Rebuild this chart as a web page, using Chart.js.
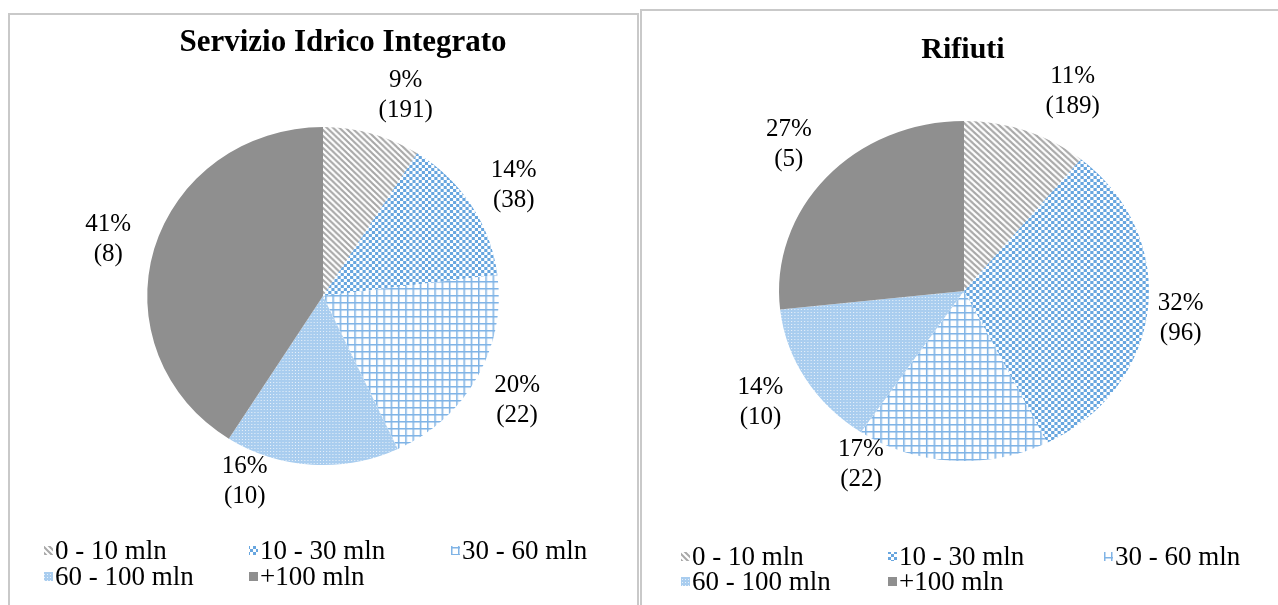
<!DOCTYPE html>
<html>
<head>
<meta charset="utf-8">
<script src="https://cdn.jsdelivr.net/npm/chart.js@4.4.1/dist/chart.umd.min.js"></script>
<style>
  html, body { margin: 0; padding: 0; background: #fff; width: 1278px; height: 605px; overflow: hidden; }
  .pannello { position: absolute; border: 2px solid #c9c9c9; box-sizing: border-box; background: #fff; }
  #p1 { left: 8px; top: 13px; width: 631px; height: 640px; }
  #p2 { left: 640px; top: 9px; width: 700px; height: 640px; }
  canvas { position: absolute; left: 0; top: 0; }
</style>
</head>
<body>
<div class="pannello" id="p1"><canvas id="torta1" width="625" height="590"></canvas></div>
<div class="pannello" id="p2"><canvas id="torta2" width="636" height="594"></canvas></div>
<script>
// fasce di fatturato
const fasce = ['0 - 10 mln', '10 - 30 mln', '30 - 60 mln', '60 - 100 mln', '+100 mln'];

// Servizio Idrico Integrato: quota % e numero di aziende
const idricoPerc = [9, 14, 20, 16, 41];
const idricoNum = [191, 38, 22, 10, 8];

// Rifiuti
const rifiutiPerc = [11, 32, 17, 14, 27];
const rifiutiNum = [189, 96, 22, 10, 5];

// --- retini stile Excel ---
function retino(size, disegna) {
  const c = document.createElement('canvas');
  c.width = size; c.height = size;
  const g = c.getContext('2d');
  disegna(g, size);
  return g.createPattern(c, 'repeat');
}

const pTratteggio = retino(6, (g, s) => {
  g.fillStyle = '#fff'; g.fillRect(0, 0, s, s);
  g.strokeStyle = '#a8a8a8'; g.lineWidth = 2;
  g.beginPath();
  g.moveTo(-1, -1); g.lineTo(s + 1, s + 1);
  g.moveTo(-1, s - 1); g.lineTo(1, s + 1);
  g.moveTo(s - 1, -1); g.lineTo(s + 1, 1);
  g.stroke();
});
const pScacchi = retino(6, (g, s) => {
  g.fillStyle = '#fff'; g.fillRect(0, 0, s, s);
  g.fillStyle = '#68a6df';
  g.fillRect(0, 0, 3, 3); g.fillRect(3, 3, 3, 3);
});
const pGriglia = retino(7, (g, s) => {
  g.fillStyle = '#fff'; g.fillRect(0, 0, s, s);
  g.fillStyle = '#80b4e6';
  g.fillRect(0, 0, s, 1.5); g.fillRect(0, 0, 1.5, s);
});
const pPuntini = retino(3, (g, s) => {
  g.fillStyle = '#a9cdef'; g.fillRect(0, 0, s, s);
  g.fillStyle = '#e8f1fa'; g.fillRect(1, 1, 1, 1);
});
const colori = [pTratteggio, pScacchi, pGriglia, pPuntini, '#8f8f8f'];

// torta leggermente allargata in orizzontale
const allargaTorta = {
  id: 'allargaTorta',
  beforeDatasetsDraw(chart, args, opts) {
    const arc = chart.getDatasetMeta(0).data[0];
    const ctx = chart.ctx;
    ctx.save();
    ctx.translate(arc.x, arc.y);
    ctx.scale(opts.sx, 1);
    ctx.translate(-arc.x, -arc.y);
  },
  afterDatasetsDraw(chart) {
    chart.ctx.restore();
  }
};

// titolo, etichette esterne "xx% (n)" e legenda a colonne
const decorazioni = {
  id: 'decorazioni',
  afterDraw(chart, args, opts) {
    const ctx = chart.ctx;
    const ds = chart.data.datasets[0];
    ctx.save();
    ctx.fillStyle = '#000';
    ctx.textAlign = 'center';
    ctx.textBaseline = 'middle';

    ctx.font = 'bold ' + opts.titoloSize + 'px "Liberation Serif"';
    ctx.fillText(opts.titolo, opts.titoloX, opts.titoloY);

    ctx.font = '25px "Liberation Serif"';
    chart.getDatasetMeta(0).data.forEach((arc, i) => {
      const p = arc.getProps(['x', 'y', 'startAngle', 'endAngle', 'outerRadius']);
      const a = (p.startAngle + p.endAngle) / 2 + opts.sposta[i] * Math.PI / 180;
      const d = p.outerRadius + opts.distanza[i];
      const lx = p.x + Math.cos(a) * d * opts.sx;
      const ly = p.y + Math.sin(a) * d;
      ctx.fillText(ds.data[i] + '%', lx, ly - 15);
      ctx.fillText('(' + ds.aziende[i] + ')', lx, ly + 15);
    });

    ctx.font = '27px "Liberation Serif"';
    ctx.textAlign = 'left';
    chart.data.labels.forEach((lab, i) => {
      const x = opts.colonne[i % 3];
      const y = opts.righe[Math.floor(i / 3)];
      ctx.fillStyle = ds.backgroundColor[i];
      ctx.fillRect(x, y - 5, 9, 9);
      ctx.fillStyle = '#000';
      ctx.fillText(lab, x + 11, y + 1);
    });
    ctx.restore();
  }
};

function torta(id, perc, num, padding, deco) {
  return new Chart(document.getElementById(id), {
    type: 'pie',
    data: {
      labels: fasce,
      datasets: [{
        data: perc,
        aziende: num,
        backgroundColor: colori,
        borderWidth: 0
      }]
    },
    options: {
      responsive: false,
      animation: false,
      layout: { padding },
      plugins: {
        legend: { display: false },
        title: { display: false },
        tooltip: { enabled: false },
        allargaTorta: { sx: deco.sx },
        decorazioni: deco
      }
    },
    plugins: [allargaTorta, decorazioni]
  });
}

torta('torta1', idricoPerc, idricoNum,
  { top: 112, bottom: 140, left: 100, right: 99 },
  {
    titolo: 'Servizio Idrico Integrato', titoloX: 333, titoloY: 28, titoloSize: 31,
    sx: 1.04,
    sposta: [5.4, 1.4, 0.5, 18.5, -1],
    distanza: [47, 45, 45, 31, 45],
    colonne: [34, 239, 441], righe: [536, 562]
  });

torta('torta2', rifiutiPerc, rifiutiNum,
  { top: 110, bottom: 144, left: 100, right: 92 },
  {
    titolo: 'Rifiuti', titoloX: 321, titoloY: 39, titoloSize: 30,
    sx: 1.088,
    sposta: [7, 1.5, 25, 0.3, 0.5],
    distanza: [53, 31, 28, 48, 48],
    colonne: [39, 246, 462], righe: [546, 571]
  });
</script>
</body>
</html>
